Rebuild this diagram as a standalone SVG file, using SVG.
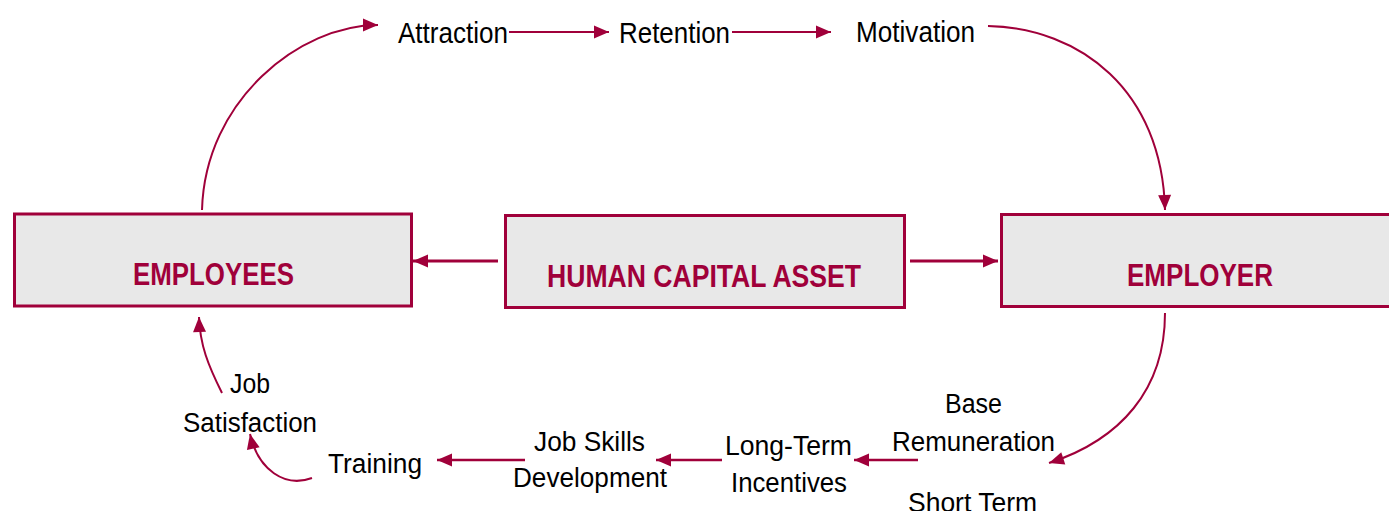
<svg xmlns="http://www.w3.org/2000/svg" width="1389" height="511" viewBox="0 0 1389 511">
<defs>
<style>
.box{fill:#E8E8E8;stroke:#A0003A;stroke-width:3}
.lbl{font-family:"Liberation Sans",Arial,sans-serif;font-weight:bold;font-size:31px;fill:#A0003A}
.t{font-family:"Liberation Sans",Arial,sans-serif;font-size:29px;fill:#000}
.b{font-family:"Liberation Sans",Arial,sans-serif;font-size:27px;fill:#000}
.c{fill:none;stroke:#A0003A;stroke-width:2}
.s{fill:none;stroke:#A0003A;stroke-width:2.5}
.h{fill:none;stroke:#A0003A;stroke-width:3}
</style>
<marker id="ah" markerUnits="userSpaceOnUse" markerWidth="16" markerHeight="14" refX="15" refY="6.5" orient="auto" overflow="visible">
<path d="M0,0 L15,6.5 L0,13 z" fill="#A0003A"/>
</marker>
</defs>
<g id="employees">
<rect class="box" x="14.5" y="214" width="397" height="92"/>
<text class="lbl" x="133" y="285" textLength="161" lengthAdjust="spacingAndGlyphs">EMPLOYEES</text>
</g>
<g id="human-capital-asset">
<rect class="box" x="505.5" y="215.5" width="399" height="92"/>
<text class="lbl" x="547" y="287" textLength="314" lengthAdjust="spacingAndGlyphs">HUMAN CAPITAL ASSET</text>
</g>
<g id="employer">
<rect class="box" x="1001.5" y="214.5" width="420" height="92"/>
<text class="lbl" x="1127" y="286" textLength="146" lengthAdjust="spacingAndGlyphs">EMPLOYER</text>
</g>
<g id="attraction"><text class="t" x="398" y="43" textLength="110" lengthAdjust="spacingAndGlyphs">Attraction</text></g>
<g id="retention"><text class="t" x="619" y="43" textLength="111" lengthAdjust="spacingAndGlyphs">Retention</text></g>
<g id="motivation"><text class="t" x="856" y="42" textLength="119" lengthAdjust="spacingAndGlyphs">Motivation</text></g>
<g id="base-remuneration">
<text class="b" x="945" y="413" textLength="57" lengthAdjust="spacingAndGlyphs">Base</text>
<text class="b" x="892" y="451" textLength="163" lengthAdjust="spacingAndGlyphs">Remuneration</text>
</g>
<g id="short-term"><text class="b" x="908" y="512" textLength="129" lengthAdjust="spacingAndGlyphs">Short Term</text></g>
<g id="long-term-incentives">
<text class="b" x="725" y="455" textLength="127" lengthAdjust="spacingAndGlyphs">Long-Term</text>
<text class="b" x="731" y="492" textLength="116" lengthAdjust="spacingAndGlyphs">Incentives</text>
</g>
<g id="job-skills-development">
<text class="b" x="534" y="451" textLength="111" lengthAdjust="spacingAndGlyphs">Job Skills</text>
<text class="b" x="513" y="487" textLength="154" lengthAdjust="spacingAndGlyphs">Development</text>
</g>
<g id="training"><text class="b" x="328" y="473" textLength="94" lengthAdjust="spacingAndGlyphs">Training</text></g>
<g id="job-satisfaction">
<text class="b" x="230" y="393" textLength="40" lengthAdjust="spacingAndGlyphs">Job</text>
<text class="b" x="183" y="432" textLength="134" lengthAdjust="spacingAndGlyphs">Satisfaction</text>
</g>
<g id="connectors">
<path class="c" d="M202,210 C205,100 300,25 378,25" marker-end="url(#ah)"/>
<path class="c" d="M509,32 L609,32" marker-end="url(#ah)"/>
<path class="c" d="M732,32 L831,32" marker-end="url(#ah)"/>
<path class="c" d="M988,26 C1080,28 1162,90 1165,210" marker-end="url(#ah)"/>
<path class="h" d="M498,261 L413,261" marker-end="url(#ah)"/>
<path class="h" d="M910,261 L998,261" marker-end="url(#ah)"/>
<path class="c" d="M1165,313 C1165,390 1120,440 1049,463" marker-end="url(#ah)"/>
<path class="s" d="M918,460 L854,460" marker-end="url(#ah)"/>
<path class="s" d="M722,460 L656,460" marker-end="url(#ah)"/>
<path class="s" d="M525,460 L437,460" marker-end="url(#ah)"/>
<path class="c" d="M312,478 C285,488 258,470 250,434" marker-end="url(#ah)"/>
<path class="c" d="M222,393 C208,365 200,345 199,317" marker-end="url(#ah)"/>
</g>
</svg>
